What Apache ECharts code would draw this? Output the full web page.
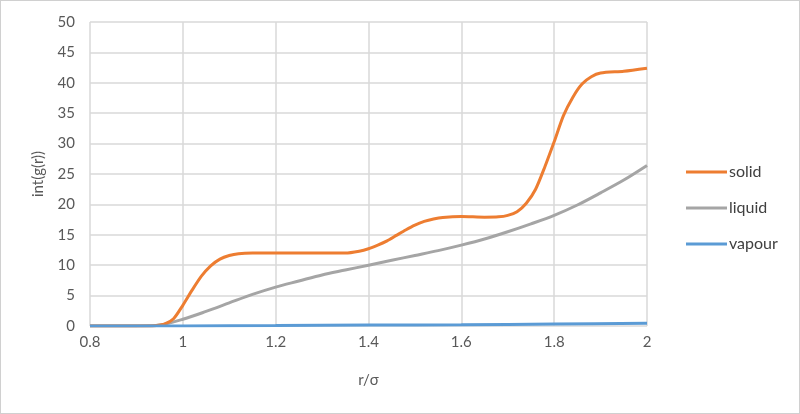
<!DOCTYPE html>
<html><head><meta charset="utf-8">
<script src="https://cdn.jsdelivr.net/npm/echarts@6/dist/echarts.min.js"></script>
<style>html,body{margin:0;padding:0;background:#fff}#c{width:800px;height:414px;box-sizing:border-box;border:1px solid #d0d0d0}</style>
</head><body><div id="c"></div>
<script>
const xTicks = [0.8, 1, 1.2, 1.4, 1.6, 1.8, 2];
const yTicks = [0, 5, 10, 15, 20, 25, 30, 35, 40, 45, 50];
const seriesNames = ['solid', 'liquid', 'vapour'];
const rSolid = [0.8, 0.9, 0.94, 0.96, 0.98, 1.0, 1.02, 1.04, 1.06, 1.08, 1.10, 1.12, 1.15, 1.2, 1.3, 1.35, 1.38, 1.40, 1.42, 1.44, 1.46, 1.48, 1.50, 1.52, 1.54, 1.56, 1.6, 1.65, 1.68, 1.70, 1.72, 1.74, 1.76, 1.78, 1.80, 1.82, 1.84, 1.86, 1.88, 1.90, 1.95, 2.0];
const solid = [0, 0, 0.05, 0.3, 1.2, 3.4, 5.9, 8.2, 9.9, 11.0, 11.6, 11.9, 12.0, 12.0, 12.0, 12.0, 12.3, 12.7, 13.3, 14.0, 14.9, 15.8, 16.6, 17.2, 17.6, 17.85, 18.0, 17.9, 17.95, 18.2, 18.8, 20.2, 22.5, 26.2, 30.3, 34.6, 37.6, 39.8, 41.0, 41.6, 41.9, 42.4];
const rLiquid = [0.8, 0.9, 0.95, 1.0, 1.05, 1.1, 1.15, 1.2, 1.25, 1.3, 1.35, 1.4, 1.45, 1.5, 1.55, 1.6, 1.65, 1.7, 1.75, 1.8, 1.85, 1.9, 1.95, 2.0];
const liquid = [0, 0, 0.15, 1.1, 2.4, 3.8, 5.2, 6.4, 7.4, 8.4, 9.2, 10.0, 10.8, 11.6, 12.4, 13.3, 14.3, 15.5, 16.8, 18.2, 19.9, 21.9, 24.0, 26.4];
const rVapour = [0.8, 1.0, 1.2, 1.4, 1.6, 1.8, 2.0];
const vapour = [0, 0.02, 0.08, 0.15, 0.22, 0.32, 0.45];

const zip = (xs, ys) => xs.map((x, i) => [x, ys[i]]);
const colors = ['#ED7D31', '#A5A5A5', '#5B9BD5'];
const chart = echarts.init(document.getElementById('c'));
const font = 'Lato, "Open Sans", sans-serif';
chart.setOption({
  animation: false,
  color: colors,
  textStyle: { fontFamily: font },
  grid: { left: 89, right: 152, top: 21, bottom: 87 },
  xAxis: {
    type: 'value', min: xTicks[0], max: xTicks[xTicks.length - 1], interval: 0.2,
    name: 'r/σ', nameLocation: 'middle', nameGap: 47,
    nameTextStyle: { color: '#595959', fontSize: 15, fontFamily: font },
    axisLine: { show: false }, axisTick: { show: false },
    axisLabel: { color: '#595959', fontSize: 15, margin: 9, fontFamily: font,
      formatter: v => String(+v.toFixed(1)) },
    splitLine: { show: true, lineStyle: { color: '#d9d9d9', width: 1.5 } }
  },
  yAxis: {
    type: 'value', min: yTicks[0], max: yTicks[yTicks.length - 1], interval: 5,
    name: 'int(g(r))', nameLocation: 'middle', nameGap: 44, nameRotate: 90,
    nameTextStyle: { color: '#595959', fontSize: 15, fontFamily: font },
    axisLine: { show: false }, axisTick: { show: false },
    axisLabel: { color: '#595959', fontSize: 15, margin: 15, fontFamily: font },
    splitLine: { show: true, lineStyle: { color: '#d9d9d9', width: 1.5 } }
  },
  legend: {
    orient: 'vertical', left: 680, top: 157, itemGap: 18,
    itemWidth: 41, itemHeight: 3, icon: 'rect',
    textStyle: { color: '#404040', fontSize: 16, lineHeight: 18, fontFamily: font, padding: [0, 0, 0, -3] },
    data: seriesNames
  },
  series: [
    { name: seriesNames[0], type: 'line', data: zip(rSolid, solid), smooth: 0.25, showSymbol: false, lineStyle: { width: 3 }, z: 3 },
    { name: seriesNames[1], type: 'line', data: zip(rLiquid, liquid), smooth: 0.3, showSymbol: false, lineStyle: { width: 3 }, z: 2 },
    { name: seriesNames[2], type: 'line', data: zip(rVapour, vapour), smooth: 0.3, showSymbol: false, lineStyle: { width: 3 }, z: 4 }
  ]
});
</script></body></html>
